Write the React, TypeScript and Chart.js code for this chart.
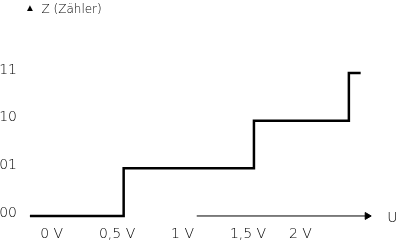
import { useEffect, useRef } from "react";
import { Chart, registerables } from "chart.js";

Chart.register(...registerables);

// Step function: counter state Z against input voltage U
const stepVoltages = [-0.166, 0.55, 1.545, 2.27, 2.36];
const counterStates = [0, 1, 2, 3, 3];
const stateLabels = ["00", "01", "10", "11"];
// U axis tick positions and labels
const voltageTicks = [0, 0.5, 1, 1.5, 1.9];
const voltageLabels = ["0 V", "0,5 V", "1 V", "1,5 V", "2 V"];
// U axis arrow (partial axis line)
const arrowVoltages = [1.108, 2.41];
const arrowStates = [0, 0];
const yTitle = "Z (Zähler)";
const yMarker = "▲";
const xTitle = "U";

const FONT = "'DejaVu Sans', sans-serif";

export default function App() {
  const ref = useRef<HTMLCanvasElement | null>(null);

  useEffect(() => {
    const canvas = ref.current;
    if (!canvas) return;

    const labelsPlugin = {
      id: "axisTitles",
      afterDraw(chart: any) {
        const ctx = chart.ctx;
        const xs = chart.scales.x;
        const ys = chart.scales.y;
        ctx.save();
        ctx.fillStyle = "#000";
        ctx.textBaseline = "alphabetic";
        ctx.textAlign = "left";
        ctx.font = `200 10px ${FONT}`;
        ctx.fillText(yMarker, 25, 10.5);
        ctx.font = `200 12px ${FONT}`;
        ctx.fillText(yTitle, 41.5, 12.5);
        ctx.font = `200 14px ${FONT}`;
        ctx.textBaseline = "middle";
        const ux = xs.getPixelForValue(arrowVoltages[arrowVoltages.length - 1]) + 20;
        const uy = ys.getPixelForValue(arrowStates[arrowStates.length - 1]) + 2;
        ctx.fillText(xTitle, ux, uy);
        ctx.restore();
      },
    };

    const tickFont = { family: FONT, size: 14, weight: 200 as any };

    const chart = new Chart(canvas, {
      type: "line",
      data: {
        datasets: [
          {
            data: stepVoltages.map((x, i) => ({ x, y: counterStates[i] })),
            stepped: true,
            borderColor: "#000",
            borderWidth: 2.5,
            pointRadius: 0,
            fill: false,
          },
          {
            data: arrowVoltages.map((x, i) => ({ x, y: arrowStates[i] })),
            borderColor: "#000",
            borderWidth: 1,
            pointRadius: [0, 4],
            pointStyle: "triangle",
            pointRotation: 90,
            pointBackgroundColor: "#000",
            pointBorderColor: "#000",
            pointBorderWidth: 1,
            fill: false,
            clip: false as any,
          },
        ],
      },
      options: {
        responsive: false,
        animation: false,
        events: [],
        layout: { padding: { top: 54, left: 0, right: 0, bottom: 0 } },
        plugins: {
          legend: { display: false },
          tooltip: { enabled: false },
          title: { display: false },
        },
        scales: {
          x: {
            type: "linear",
            min: -0.234,
            max: 2.607,
            grid: { display: false, drawTicks: false },
            border: { display: false },
            afterBuildTicks: (s: any) => {
              s.ticks = voltageTicks.map((v) => ({ value: v }));
            },
            afterFit: (s: any) => {
              s.height = 16.5;
            },
            ticks: {
              autoSkip: false,
              maxRotation: 0,
              padding: 0,
              color: "#000",
              font: tickFont,
              callback: (_v: any, i: number) => voltageLabels[i],
            },
          },
          y: {
            type: "linear",
            min: -0.2,
            max: 3.4,
            grid: { display: false, drawTicks: false },
            border: { display: false },
            afterBuildTicks: (s: any) => {
              s.ticks = stateLabels.map((_l, i) => ({ value: i }));
            },
            afterFit: (s: any) => {
              s.width = 21;
            },
            ticks: {
              padding: 4,
              labelOffset: -3,
              color: "#000",
              font: tickFont,
              callback: (_v: any, i: number) => stateLabels[i],
            },
          },
        },
      },
      plugins: [labelsPlugin],
    });

    return () => chart.destroy();
  }, []);

  return (
    <canvas
      ref={ref}
      width={398}
      height={242}
      style={{ display: "block", position: "fixed", left: 0, top: 0, background: "#fff" }}
    />
  );
}
